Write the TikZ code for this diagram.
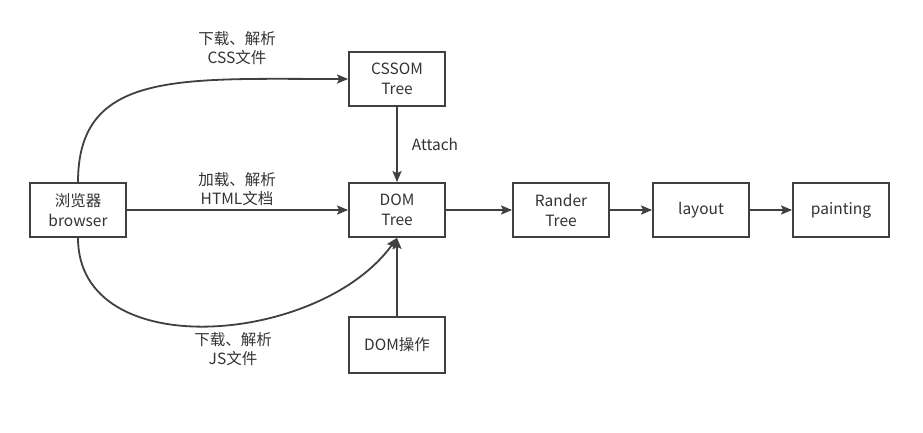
\documentclass[tikz,border=0pt]{standalone}
\usepackage{fontspec}
\setmainfont{Noto Sans CJK SC}
\usetikzlibrary{arrows.meta}
\definecolor{ln}{HTML}{404040}
\definecolor{tx}{HTML}{333333}
\begin{document}
\begin{tikzpicture}[x=1pt,y=-1pt,
  box/.style={draw=ln,line width=1.8pt,minimum width=96pt,minimum height=54pt,align=center,inner sep=0pt,text=tx,font=\fontsize{15.5}{20}\selectfont},
  lbl/.style={text=tx,align=center,font=\fontsize{15.5}{19}\selectfont,inner sep=0pt},
  conn/.style={draw=ln,line width=1.8pt,-{Stealth[length=11pt,width=9pt,inset=2pt]}}]
\useasboundingbox[fill=white] (0,0) rectangle (923,432);
\node[box] (br) at (78,210) {浏览器\\browser};
\node[box] (css) at (397,79) {CSSOM\\Tree};
\node[box] (dom) at (397,210) {DOM\\Tree};
\node[box] (rt) at (561,210) {Rander\\Tree};
\node[box] (lay) at (701,210) {layout};
\node[box] (pt) at (841,210) {painting};
\node[box,minimum height=56pt] (op) at (397,345) {DOM操作};
\draw[conn] (br.north) .. controls (78,70) and (180,79) .. (css.west);
\draw[conn] (br.east) -- (dom.west);
\draw[conn] (br.south) .. controls (78,365) and (320,345) .. (dom.south);
\draw[conn] (css.south) -- node[lbl,right=14pt] {Attach} (dom.north);
\draw[conn] (op.north) -- (dom.south);
\draw[conn] (dom.east) -- (rt.west);
\draw[conn] (rt.east) -- (lay.west);
\draw[conn] (lay.east) -- (pt.west);
\node[lbl] (l1) at (237,48) {下载、解析\\CSS文件};
\node[lbl] (l2) at (237,189) {加载、解析\\HTML文档};
\node[lbl] (l3) at (233,349) {下载、解析\\JS文件};
\end{tikzpicture}
\end{document}
